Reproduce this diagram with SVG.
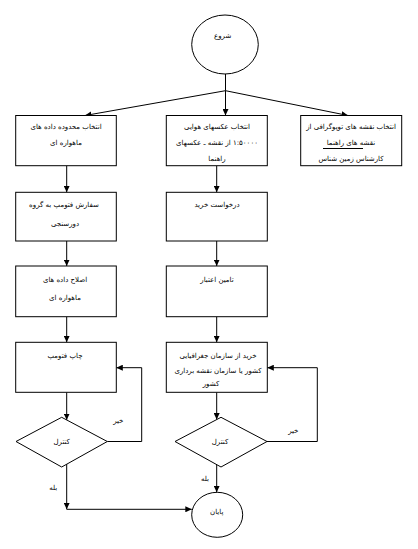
<svg xmlns="http://www.w3.org/2000/svg" width="418" height="549" viewBox="0 0 418 549">
<style>
.box{fill:#fff;stroke:#000;stroke-width:1}
.ln{fill:none;stroke:#000;stroke-width:1}
.t{font-family:"DejaVu Sans",sans-serif;font-size:7px;fill:#000;text-anchor:middle;direction:rtl}
</style>
<defs>
<marker id="ah" markerUnits="userSpaceOnUse" markerWidth="7" markerHeight="6" refX="6.5" refY="3" orient="auto">
<path d="M0,0 L6.5,3 L0,6 Z" fill="#000"/>
</marker>
</defs>
<rect width="418" height="549" fill="#fff"/>
<g id="connectors">
<path class="ln" d="M225.5,74 V90.7 L85,115.5" marker-end="url(#ah)"/>
<path class="ln" d="M225.5,90.7 V115.5" marker-end="url(#ah)"/>
<path class="ln" d="M225.5,90.7 L348,115.5" marker-end="url(#ah)"/>
<path class="ln" d="M66.7,165.7 V192.3" marker-end="url(#ah)"/>
<path class="ln" d="M66.7,241 V266" marker-end="url(#ah)"/>
<path class="ln" d="M66.7,316.7 V342.3" marker-end="url(#ah)"/>
<path class="ln" d="M66.7,392.3 V420" marker-end="url(#ah)"/>
<path class="ln" d="M216.7,165.7 V192.3" marker-end="url(#ah)"/>
<path class="ln" d="M216.7,241 V266" marker-end="url(#ah)"/>
<path class="ln" d="M216.7,316.7 V342.3" marker-end="url(#ah)"/>
<path class="ln" d="M216.7,392.3 V419.5" marker-end="url(#ah)"/>
<path class="ln" d="M107.3,441.5 H141.7 V367.7 H116.3" marker-end="url(#ah)"/>
<path class="ln" d="M267,441.5 H317.3 V367.7 H267.3" marker-end="url(#ah)"/>
<path class="ln" d="M66.7,464 V509.3" marker-end="url(#ah)"/>
<path class="ln" d="M66.7,509.3 H191.8" marker-end="url(#ah)"/>
<path class="ln" d="M216.7,464.5 V492.3" marker-end="url(#ah)"/>
<text class="t" x="118.3" y="423">خیر</text>
<text class="t" x="293.3" y="432.5">خیر</text>
<text class="t" x="53.3" y="490">بله</text>
<text class="t" x="205" y="481">بله</text>
</g>
<g id="start">
<ellipse class="box" cx="225" cy="44.5" rx="33.3" ry="29.5"/>
<text class="t" x="222.7" y="38">شروع</text>
</g>
<g id="n1">
<rect class="box" x="15.7" y="115.5" width="100.6" height="50.2"/>
<text class="t" x="66" y="129">انتخاب محدوده داده های</text>
<text class="t" x="66" y="145">ماهواره ای</text>
</g>
<g id="n2">
<rect class="box" x="166.3" y="115.5" width="101" height="50.2"/>
<text class="t" x="217" y="129">انتخاب عکسهای هوایی</text>
<text class="t" x="217" y="145">۱:۵۰۰۰۰ از نقشه ـ عکسهای</text>
<text class="t" x="217" y="161">راهنما</text>
</g>
<g id="n3">
<rect class="box" x="300.7" y="115.5" width="101" height="50.2"/>
<text class="t" x="351" y="129">انتخاب نقشه های توپوگرافی از</text>
<text class="t" x="351" y="145">نقشه های راهنما</text>
<line class="ln" x1="323" y1="148.5" x2="363" y2="148.5"/>
<text class="t" x="351" y="161">کارشناس زمین شناس</text>
</g>
<g id="n4">
<rect class="box" x="15.7" y="192.3" width="100.6" height="48.7"/>
<text class="t" x="64" y="206.5">سفارش فتومپ به گروه</text>
<text class="t" x="65" y="225.5">دورسنجی</text>
</g>
<g id="n5">
<rect class="box" x="166.3" y="192.3" width="101" height="48.7"/>
<text class="t" x="217" y="206.5">درخواست خرید</text>
</g>
<g id="n6">
<rect class="box" x="15.7" y="266" width="100.6" height="50.7"/>
<text class="t" x="65" y="281.5">اصلاح داده های</text>
<text class="t" x="65" y="299.5">ماهواره ای</text>
</g>
<g id="n7">
<rect class="box" x="166.3" y="266" width="101" height="50.7"/>
<text class="t" x="217" y="281.5">تامین اعتبار</text>
</g>
<g id="n8">
<rect class="box" x="15.7" y="342.3" width="100.6" height="50"/>
<text class="t" x="65" y="357.5">چاپ فتومپ</text>
</g>
<g id="n9">
<rect class="box" x="166.3" y="342.3" width="101" height="50"/>
<text class="t" x="218" y="357.5">خرید از سازمان جغرافیایی</text>
<text class="t" x="218" y="373">کشور یا سازمان نقشه برداری</text>
<text class="t" x="211" y="385.5">کشور</text>
</g>
<g id="d1">
<polygon class="box" points="16,441.5 61.7,417.3 107.3,441.5 61.7,467"/>
<text class="t" x="61.7" y="444">کنترل</text>
</g>
<g id="d2">
<polygon class="box" points="175,441.5 221,417.3 267,441.5 221,467"/>
<text class="t" x="220" y="444">کنترل</text>
</g>
<g id="end">
<ellipse class="box" cx="217.2" cy="514.8" rx="25.5" ry="22.5"/>
<text class="t" x="216.7" y="514">پایان</text>
</g>
</svg>
